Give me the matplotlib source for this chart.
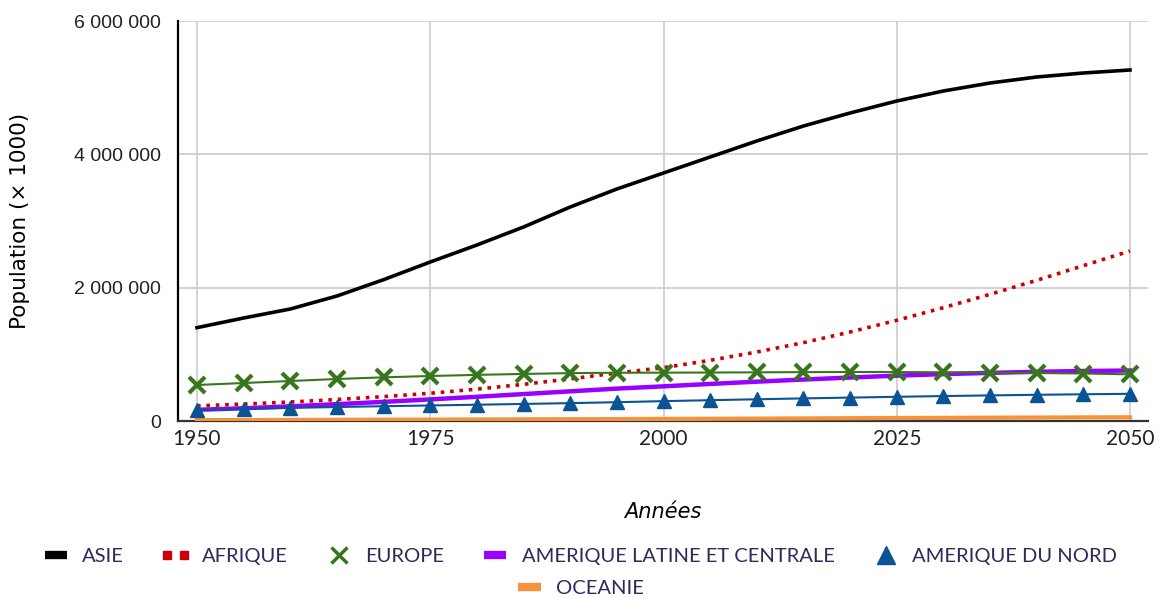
import matplotlib
matplotlib.use("Agg")
import matplotlib.pyplot as plt
from matplotlib.lines import Line2D
from matplotlib.legend_handler import HandlerLine2D
from matplotlib.ticker import FuncFormatter

years = list(range(1950, 2051, 5))

asie = [1.400, 1.545, 1.680, 1.875, 2.120, 2.385, 2.640, 2.910, 3.210, 3.480, 3.720,
        3.960, 4.200, 4.425, 4.620, 4.800, 4.950, 5.070, 5.160, 5.220, 5.265]
afrique = [0.227, 0.254, 0.285, 0.322, 0.366, 0.416, 0.478, 0.550, 0.632, 0.720, 0.800,
           0.910, 1.035, 1.175, 1.335, 1.510, 1.700, 1.900, 2.110, 2.330, 2.550]
europe = [0.540, 0.570, 0.600, 0.630, 0.655, 0.675, 0.692, 0.706, 0.718, 0.724, 0.725,
          0.727, 0.730, 0.733, 0.735, 0.734, 0.731, 0.727, 0.720, 0.712, 0.700]
amlatine = [0.168, 0.191, 0.220, 0.253, 0.287, 0.324, 0.363, 0.404, 0.445, 0.486, 0.520,
            0.556, 0.590, 0.622, 0.652, 0.680, 0.703, 0.722, 0.738, 0.750, 0.757]
amnord = [0.165, 0.180, 0.196, 0.210, 0.222, 0.233, 0.244, 0.256, 0.268, 0.282, 0.298,
          0.312, 0.326, 0.339, 0.351, 0.363, 0.374, 0.384, 0.393, 0.401, 0.408]
oceanie = [0.013, 0.014, 0.016, 0.018, 0.020, 0.021, 0.023, 0.025, 0.027, 0.029, 0.031,
           0.033, 0.036, 0.039, 0.042, 0.045, 0.047, 0.050, 0.052, 0.054, 0.056]

# series above are in millions of (x 1000)
scale = 1_000_000

fig = plt.figure(figsize=(11.62, 5.99), dpi=100)
ax = fig.add_axes([178 / 1162, 1 - 421 / 599, (1148 - 178) / 1162, 400 / 599])

ax.plot(years, [v * scale for v in asie], color="black", lw=2.6, zorder=3)
ax.plot(years, [v * scale for v in afrique], color="#cc0000", lw=2.6, ls=(0, (1, 1.6)), zorder=3)
ax.plot(years, [v * scale for v in europe], color="#38761d", lw=1.5, marker="x",
        ms=11, mew=3, zorder=4)
ax.plot(years, [v * scale for v in amlatine], color="#9900ff", lw=3.2, zorder=3)
ax.plot(years, [v * scale for v in amnord], color="#0b5394", lw=1.5, marker="^",
        ms=10, zorder=4)
ax.plot(years, [v * scale for v in oceanie], color="#f6913c", lw=3, zorder=3)

ax.set_xlim(1950 - 19 / 9.33, 2050 + 18 / 9.33)
ax.set_ylim(0, 6_000_000)
ax.set_xticks([1950, 1975, 2000, 2025, 2050])
ax.set_yticks([0, 2_000_000, 4_000_000, 6_000_000])
ax.yaxis.set_major_formatter(FuncFormatter(lambda v, p: f"{int(v):,}".replace(",", " ")))
ax.grid(True, color="#cccccc", lw=1.2)
ax.set_axisbelow(True)
for s in ["top", "right"]:
    ax.spines[s].set_visible(False)
ax.spines["left"].set_color("black")
ax.spines["left"].set_linewidth(1.6)
ax.spines["bottom"].set_color("#333333")
ax.spines["bottom"].set_linewidth(1.6)
ax.tick_params(axis="y", length=0, pad=12)
ax.tick_params(axis="x", length=0, pad=6)
for lab in ax.get_yticklabels():
    lab.set_fontfamily("Liberation Sans")
    lab.set_fontsize(14)
    lab.set_color("#222222")
for lab in ax.get_xticklabels():
    lab.set_fontfamily("Lato")
    lab.set_fontsize(15)
    lab.set_color("#222222")

ax.set_ylabel("Population (× 1000)", fontsize=15.5, family="DejaVu Sans", labelpad=32)
ax.set_xlabel("Années", fontsize=15, style="italic", family="DejaVu Sans", labelpad=38)

# two red squares for the dotted AFRIQUE entry
afr_handle = Line2D([], [], color="#cc0000", lw=0, marker="s", ms=5.5)
h1 = [
    Line2D([], [], color="black", lw=6, solid_capstyle="butt"),
    afr_handle,
    Line2D([], [], color="#38761d", lw=0, marker="x", ms=11, mew=2.5),
    Line2D([], [], color="#9900ff", lw=6, solid_capstyle="butt"),
    Line2D([], [], color="#0b5394", lw=0, marker="^", ms=13),
]
l1 = ["ASIE", "AFRIQUE", "EUROPE", "AMERIQUE LATINE ET CENTRALE", "AMERIQUE DU NORD"]
leg1 = fig.legend(h1, l1, loc="center", bbox_to_anchor=(0.5, 1 - 556 / 599), ncol=5,
                  frameon=False, handlelength=1.1, columnspacing=2.0, handletextpad=0.75,
                  prop={"family": "Lato", "size": 14.5},
                  handler_map={afr_handle: HandlerLine2D(numpoints=2, marker_pad=0.15)})
for t in leg1.get_texts():
    t.set_color("#2e2a5a")
leg2 = fig.legend([Line2D([], [], color="#f6913c", lw=6, solid_capstyle="butt")], ["OCEANIE"],
                  loc="center", bbox_to_anchor=(0.5, 1 - 588 / 599), frameon=False,
                  handlelength=1.1, handletextpad=0.75, prop={"family": "Lato", "size": 14.5})
for t in leg2.get_texts():
    t.set_color("#2e2a5a")

fig.savefig("out.png", dpi=100)
